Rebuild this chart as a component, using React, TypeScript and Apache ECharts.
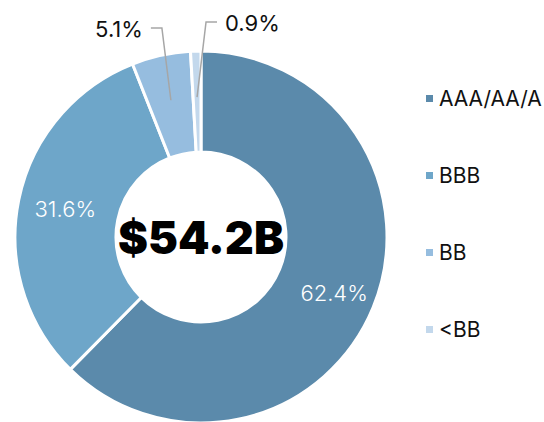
import React, { useEffect, useRef } from "react";
import * as echarts from "echarts";

const categories = ["AAA/AA/A", "BBB", "BB", "<BB"];
const values = [62.4, 31.6, 5.1, 0.9];
const colors = ["#5b8aab", "#6ea6c9", "#96bddf", "#c3d8ec"];
const totalLabel = "$54.2B";

const CX = 201;
const CY = 237;
const R_IN = 85;
const R_OUT = 186;
const R_LINE = 140;
const FONT = "Inter, 'Noto Sans', sans-serif";

export default function App() {
  const ref = useRef<HTMLDivElement>(null);
  useEffect(() => {
    if (!ref.current) return;
    const chart = echarts.init(ref.current, null, { renderer: "svg" });
    const total = values.reduce((a, b) => a + b, 0);
    const midAngles: number[] = [];
    let acc = 0;
    values.forEach((v) => {
      midAngles.push(((acc + v / 2) / total) * Math.PI * 2);
      acc += v;
    });
    const lineStart = (i: number) => [
      CX + R_LINE * Math.sin(midAngles[i]),
      CY - R_LINE * Math.cos(midAngles[i]),
    ];
    const outsideCfg: Record<number, { dir: number; y: number }> = {
      2: { dir: -1, y: 28 },
      3: { dir: 1, y: 22 },
    };
    const labelFmt = (p: any) => p.value.toFixed(1) + "%";

    chart.setOption({
      animation: false,
      legend: {
        orient: "vertical",
        left: 419,
        top: 83,
        itemWidth: 9,
        itemHeight: 9,
        itemGap: 56,
        icon: "rect",
        data: categories,
        textStyle: { fontFamily: FONT, fontSize: 21, color: "#111" },
      },
      graphic: [
        {
          type: "text",
          x: CX,
          y: CY,
          z: 10,
          style: {
            text: totalLabel,
            x: 0,
            y: 0,
            align: "center",
            verticalAlign: "middle",
            fontFamily: FONT,
            fontSize: 45,
            fontWeight: 900,
            fill: "#000",
          },
        },
      ],
      series: [
        {
          type: "pie",
          z: 2,
          center: [CX, CY],
          radius: [R_IN, R_OUT],
          startAngle: 90,
          clockwise: true,
          avoidLabelOverlap: false,
          itemStyle: { borderColor: "#fff", borderWidth: 3 },
          label: {
            position: "inside",
            color: "#fff",
            fontFamily: FONT,
            fontSize: 22,
            fontWeight: 300,
            formatter: labelFmt,
          },
          labelLine: { show: false },
          labelLayout: (p: any) => (p.dataIndex === 0 ? { dx: 5, dy: 3 } : {}),
          data: categories.map((name, i) => ({
            name,
            value: values[i],
            itemStyle: { color: colors[i] },
            label: { show: i < 2 },
          })),
        },
        {
          type: "pie",
          z: 3,
          silent: true,
          legendHoverLink: false,
          center: [CX, CY],
          radius: [0, R_LINE],
          startAngle: 90,
          clockwise: true,
          avoidLabelOverlap: false,
          itemStyle: { color: "rgba(0,0,0,0)", borderWidth: 0 },
          label: {
            position: "outside",
            color: "#111",
            fontFamily: FONT,
            fontSize: 22,
            fontWeight: 400,
            formatter: labelFmt,
          },
          labelLine: { show: true, lineStyle: { color: "#a6a6a6", width: 1.5 } },
          labelLayout: (p: any) => {
            const cfg = outsideCfg[p.dataIndex];
            if (!cfg) return {};
            const [sx, sy] = lineStart(p.dataIndex);
            const ex = sx + cfg.dir * 9;
            const hx = ex + cfg.dir * 11;
            return {
              x: hx + cfg.dir * 8,
              y: cfg.y + 1,
              align: cfg.dir < 0 ? "right" : "left",
              verticalAlign: "middle",
              labelLinePoints: [
                [sx, sy],
                [ex, cfg.y],
                [hx, cfg.y],
              ],
            };
          },
          data: categories.map((name, i) => ({
            name: name + " ",
            value: values[i],
            label: { show: i >= 2 },
            labelLine: { show: i >= 2 },
          })),
        },
      ],
    });
    return () => chart.dispose();
  }, []);
  return (
    <div
      ref={ref}
      style={{ position: "absolute", left: 0, top: 0, width: 544, height: 422, background: "#fff" }}
    />
  );
}
